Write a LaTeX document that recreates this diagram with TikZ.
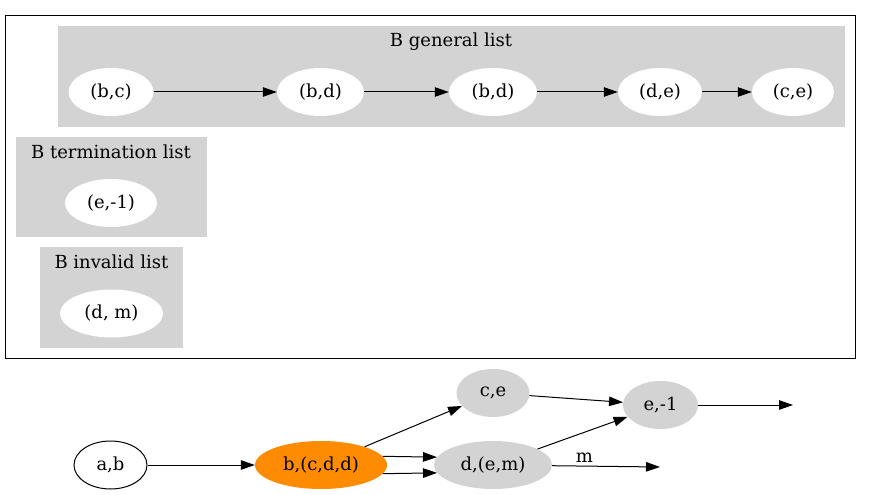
\documentclass[tikz,border=0pt]{standalone}
\usepackage{fontspec}
\setmainfont{DejaVu Serif}
\usetikzlibrary{shapes.geometric,arrows.meta}
\definecolor{clustergray}{HTML}{D3D3D3}
\definecolor{hotorange}{HTML}{FF8C00}
\newcommand{\gvfont}{\fontsize{18}{21}\selectfont}
\tikzstyle{cluster}=[fill=clustergray]
\tikzstyle{listitem}=[ellipse,fill=white,inner sep=0pt,minimum height=48pt,minimum width=86pt]
\tikzstyle{state}=[ellipse,fill=clustergray,inner sep=0pt,minimum height=48pt]
\tikzstyle{link}=[-{Triangle[length=14pt,width=9.5pt]},line width=1pt]

\begin{document}
\begin{tikzpicture}[x=1pt,y=-1pt,font=\gvfont]
\useasboundingbox (0,0) rectangle (871,495);
%outer box and the three lists
\draw[line width=1pt] (5,15.5) rectangle (855,358);
\fill[cluster] (58,26) rectangle (845,127);
\fill[cluster] (15.5,137) rectangle (207,237);
\fill[cluster] (40,247) rectangle (183,348);
\node (genlabel) at (451,42) {B general list};
\node (termlabel) at (111,152) {B termination list};
\node (invlabel) at (111.5,262) {B invalid list};
%general list
\node[listitem,minimum width=85pt] (g1) at (111,92) {(b,c)};
\node[listitem,minimum width=87pt] (g2) at (320.5,92) {(b,d)};
\node[listitem,minimum width=88pt] (g3) at (493,92) {(b,d)};
\node[listitem,minimum width=84pt] (g4) at (660,92) {(d,e)};
\node[listitem,minimum width=82pt] (g5) at (793,92) {(c,e)};
\draw[link] (g1) -- (g2);
\draw[link] (g2) -- (g3);
\draw[link] (g3) -- (g4);
\draw[link] (g4) -- (g5);
%termination and invalid
\node[listitem,minimum width=92pt] (t1) at (111,203) {(e,-1)};
\node[listitem,minimum width=103pt] (i1) at (111.5,313.5) {(d, m)};
%search graph
\node[ellipse,draw,line width=1pt,inner sep=0pt,minimum width=73pt,minimum height=48pt] (ab) at (110.5,465) {a,b};
\node[state,fill=hotorange,minimum width=132pt] (bcdd) at (321,465) {b,(c,d,d)};
\node[state,minimum width=73pt] (ce) at (493,393) {c,e};
\node[state,minimum width=118pt] (dem) at (493,465) {d,(e,m)};
\node[state,minimum width=75pt] (em1) at (660.5,405) {e,-1};
\coordinate (endA) at (793,405);
\coordinate (endB) at (660,467);
\draw[link] (ab) -- (bcdd);
\draw[link] (bcdd) -- (ce);
\draw[link] (bcdd.8) -- (dem.172);
\draw[link] (bcdd.-8) -- (dem.-172);
\draw[link] (ce) -- (em1);
\draw[link] (dem) -- (em1);
\draw[link] (em1) -- (endA);
\draw[link] (dem) -- node[pos=0.3,above,inner sep=3pt] (mlabel) {m} (endB);
\end{tikzpicture}
\end{document}
